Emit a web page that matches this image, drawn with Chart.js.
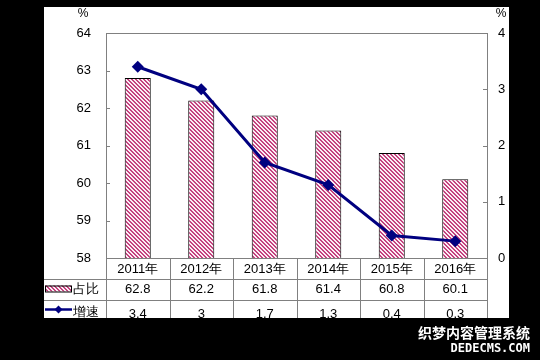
<!DOCTYPE html>
<html>
<head>
<meta charset="utf-8">
<script src="https://cdn.jsdelivr.net/npm/chart.js@4/dist/chart.umd.min.js"></script>
<style>
    html, body { margin: 0; padding: 0; background: #000; }
    #wrap { width: 540px; height: 360px; }
</style>
</head>
<body>
<div id="wrap"><canvas id="canvas1" width="540" height="360"></canvas></div>
<script>
"use strict"
// dati
const anni = ["2011年", "2012年", "2013年", "2014年", "2015年", "2016年"];
const zhanbi = [62.8, 62.2, 61.8, 61.4, 60.8, 60.1];
const zengsu = [3.4, 3, 1.7, 1.3, 0.4, 0.3];
const zhanbiTesto = ["62.8", "62.2", "61.8", "61.4", "60.8", "60.1"];
const zengsuTesto = ["3.4", "3", "1.7", "1.3", "0.4", "0.3"];
const tickSinistra = [58, 59, 60, 61, 62, 63, 64];
const tickDestra = [0, 1, 2, 3, 4];

const FONT = "Arial, 'Liberation Sans', sans-serif";
const BIANCO = { left: 44, top: 7, right: 509, bottom: 318 };

// trama a righe diagonali delle barre (pixel netti)
function creaTrama() {
    let c = document.createElement("canvas");
    c.width = 4; c.height = 4;
    let g = c.getContext("2d");
    g.fillStyle = "#fbeef4";
    g.fillRect(0, 0, 4, 4);
    g.fillStyle = "#c4427f";
    for (let i = 0; i < 4; i++) {
        g.fillRect(i, i, 1, 1);
        g.fillRect((i + 1) % 4, i, 1, 1);
    }
    return g.createPattern(c, "repeat");
}
const trama = creaTrama();

const sfondo = {
    id: "sfondo",
    beforeDraw(chart) {
        let ctx = chart.ctx;
        ctx.save();
        ctx.fillStyle = "#000";
        ctx.fillRect(0, 0, chart.width, chart.height);
        ctx.fillStyle = "#fff";
        ctx.fillRect(BIANCO.left, BIANCO.top, BIANCO.right - BIANCO.left, BIANCO.bottom - BIANCO.top);
        ctx.restore();
    }
};

const tabella = {
    id: "tabella",
    afterDraw(chart) {
        let ctx = chart.ctx;
        let a = chart.chartArea;
        let x = chart.scales.x;
        let y = chart.scales.y;
        let y1 = chart.scales.y1;
        let w = (a.right - a.left) / anni.length;
        let r1 = a.bottom + 20.5, r2 = a.bottom + 41.5;
        let cy3 = 309.5;

        ctx.save();
        ctx.beginPath();
        ctx.rect(BIANCO.left, BIANCO.top, BIANCO.right - BIANCO.left, BIANCO.bottom - BIANCO.top);
        ctx.clip();

        ctx.strokeStyle = "#808080";
        ctx.lineWidth = 1;
        // bordo area grafico
        ctx.strokeRect(Math.round(a.left) + 0.5, Math.round(a.top) + 0.5, Math.round(a.right - a.left), Math.round(a.bottom - a.top));

        // tacche interne
        ctx.beginPath();
        tickSinistra.forEach(v => {
            let py = Math.round(y.getPixelForValue(v)) + 0.5;
            ctx.moveTo(a.left, py); ctx.lineTo(a.left + 4, py);
        });
        tickDestra.forEach(v => {
            let py = Math.round(y1.getPixelForValue(v)) + 0.5;
            ctx.moveTo(a.right - 4, py); ctx.lineTo(a.right, py);
        });
        // righe tabella
        ctx.moveTo(BIANCO.left, Math.round(r1) + 0.5); ctx.lineTo(a.right, Math.round(r1) + 0.5);
        ctx.moveTo(BIANCO.left, Math.round(r2) + 0.5); ctx.lineTo(a.right, Math.round(r2) + 0.5);
        for (let i = 0; i <= anni.length; i++) {
            let px = Math.round(a.left + i * w) + 0.5;
            ctx.moveTo(px, a.bottom); ctx.lineTo(px, BIANCO.bottom + 10);
        }
        ctx.stroke();

        // testi tabella
        ctx.fillStyle = "#000";
        ctx.font = "13px " + FONT;
        ctx.textAlign = "center";
        ctx.textBaseline = "middle";
        for (let i = 0; i < anni.length; i++) {
            let cx = x.getPixelForValue(i);
            ctx.fillText(anni[i], cx, a.bottom + 11);
            ctx.fillText(zhanbiTesto[i], cx, r1 + 11);
            ctx.fillText(zengsuTesto[i], cx, 314.5);
        }

        // legenda nella tabella
        ctx.fillStyle = trama;
        ctx.fillRect(45, r1 + 7, 27, 6);
        ctx.strokeStyle = "#000";
        ctx.strokeRect(45.5, r1 + 7.5, 26, 6);
        ctx.fillStyle = "#000";
        ctx.textAlign = "left";
        ctx.fillText("占比", 73, r1 + 11);

        ctx.strokeStyle = "#000080";
        ctx.lineWidth = 2.5;
        ctx.beginPath();
        ctx.moveTo(45, cy3); ctx.lineTo(72, cy3);
        ctx.stroke();
        ctx.fillStyle = "#000080";
        ctx.beginPath();
        ctx.moveTo(58.5, cy3 - 4); ctx.lineTo(62.5, cy3); ctx.lineTo(58.5, cy3 + 4); ctx.lineTo(54.5, cy3);
        ctx.closePath();
        ctx.fill();
        ctx.fillStyle = "#000";
        ctx.fillText("增速", 73, 312.5);

        // unità degli assi
        ctx.textAlign = "center";
        ctx.font = "12px " + FONT;
        ctx.fillText("%", 83, 14);
        ctx.fillText("%", 501, 14);
        ctx.restore();

        // filigrana
        ctx.save();
        ctx.fillStyle = "#fff";
        ctx.textAlign = "right";
        ctx.textBaseline = "middle";
        ctx.font = "bold 14px 'Noto Sans CJK SC', sans-serif";
        ctx.fillText("织梦内容管理系统", 530, 333);
        ctx.font = "bold 12px 'DejaVu Sans Mono', monospace";
        ctx.fillText("DEDECMS.COM", 530, 349);
        ctx.restore();
    }
};

let chartOptions = {
    type: "bar",
    data: {
        labels: anni,
        datasets: [{
            type: "line",
            label: "增速",
            data: zengsu,
            yAxisID: "y1",
            borderColor: "#000080",
            backgroundColor: "#000080",
            borderWidth: 3,
            pointStyle: "rectRot",
            pointRadius: 6,
            pointBackgroundColor: "#000080",
            pointBorderWidth: 0,
            tension: 0,
            order: 0
        }, {
            label: "占比",
            data: zhanbi,
            yAxisID: "y",
            backgroundColor: trama,
            borderColor: "#000",
            borderWidth: 1,
            barPercentage: 0.41,
            categoryPercentage: 1,
            order: 1
        }]
    },
    options: {
        responsive: false,
        animation: false,
        events: [],
        layout: { padding: { left: 44, right: 31, top: 33, bottom: 42 } },
        plugins: {
            legend: { display: false },
            tooltip: { enabled: false }
        },
        scales: {
            x: {
                grid: { display: false, drawTicks: false },
                border: { display: false },
                ticks: { display: false },
                afterFit: s => { s.height = 60; }
            },
            y: {
                position: "left",
                min: 58, max: 64,
                grid: { display: false, drawTicks: false },
                border: { display: false },
                ticks: {
                    stepSize: 1, padding: 15, color: "#000",
                    font: { family: FONT, size: 13 }
                },
                afterFit: s => { s.width = 62; }
            },
            y1: {
                position: "right",
                min: 0, max: 4,
                grid: { display: false, drawTicks: false },
                border: { display: false },
                ticks: {
                    stepSize: 1, padding: 11, color: "#000",
                    font: { family: FONT, size: 13 }
                },
                afterFit: s => { s.width = 22; }
            }
        }
    },
    plugins: [sfondo, tabella]
};

let canvas1 = document.getElementById("canvas1");
let chart1 = new Chart(canvas1, chartOptions);
</script>
</body>
</html>
